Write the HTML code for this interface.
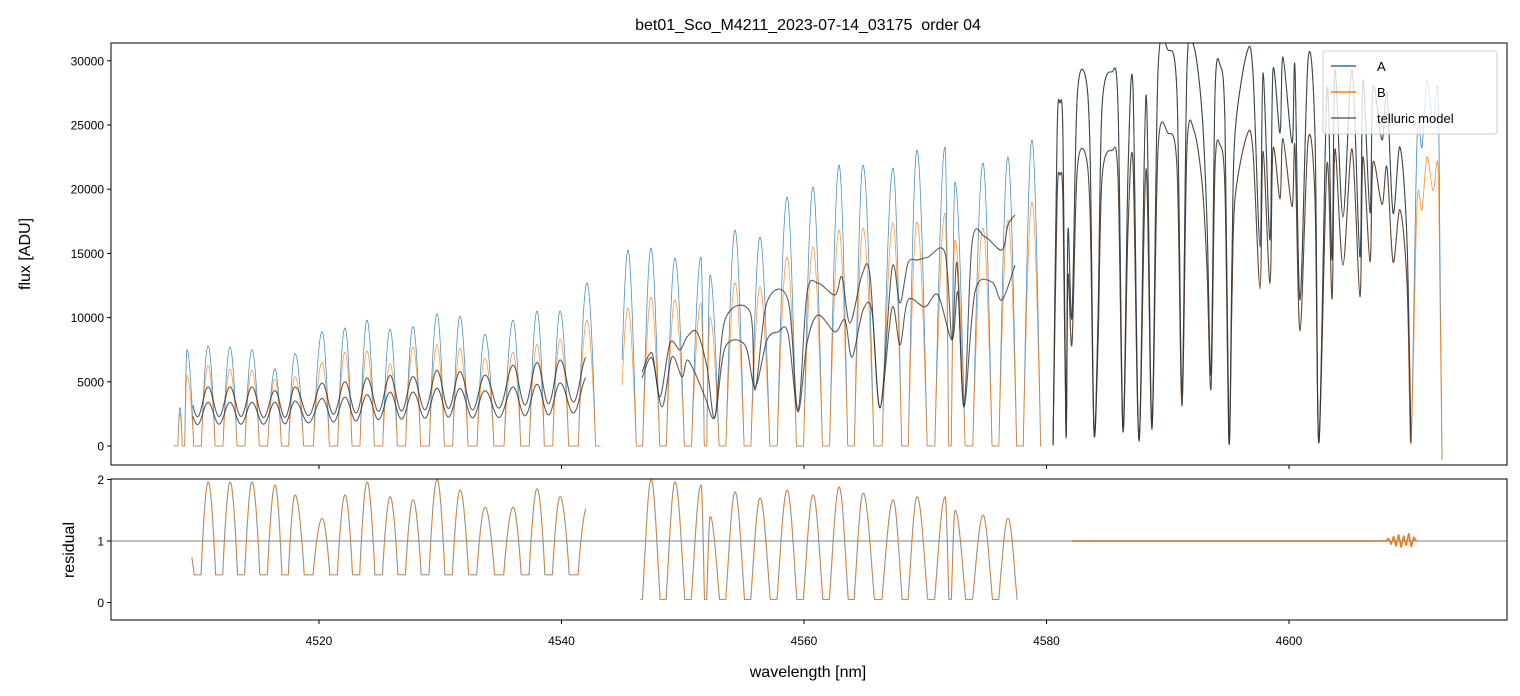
<!DOCTYPE html>
<html><head><meta charset="utf-8">
<style>
html,body{margin:0;padding:0;background:#fff;}
svg{display:block;font-family:"Liberation Sans","DejaVu Sans",sans-serif;}
</style></head>
<body>
<svg id="chart" width="1520" height="696" viewBox="0 0 1520 696" xmlns="http://www.w3.org/2000/svg">
<defs>
<clipPath id="clipTop"><rect x="111" y="43" width="1396" height="422"/></clipPath>
<clipPath id="clipBot"><rect x="111" y="479" width="1396" height="141"/></clipPath>
</defs>
<rect width="1520" height="696" fill="#fff"/>
<text x="808" y="30" font-size="16" text-anchor="middle">bet01_Sco_M4211_2023-07-14_03175 &#160;order 04</text>
<g id="topG" clip-path="url(#clipTop)"></g>
<g id="botG" clip-path="url(#clipBot)"></g>
<g id="axes"></g>
<text transform="translate(30,254) rotate(-90)" font-size="16" text-anchor="middle">flux [ADU]</text>
<text transform="translate(74,550) rotate(-90)" font-size="16" text-anchor="middle">residual</text>
<text x="808" y="677" font-size="16" text-anchor="middle">wavelength [nm]</text>
<g>
<rect x="1323" y="51" width="174" height="83" rx="3" fill="#fff" fill-opacity="0.8" stroke="#ccc"/>
<line x1="1331" y1="66" x2="1356" y2="66" stroke="#1f77b4" stroke-width="1.5"/>
<text x="1377" y="71" font-size="13">A</text>
<line x1="1331" y1="92" x2="1356" y2="92" stroke="#ff7f0e" stroke-width="1.5"/>
<text x="1377" y="97" font-size="13">B</text>
<line x1="1331" y1="118" x2="1356" y2="118" stroke="#333" stroke-opacity="0.75" stroke-width="1.5"/>
<text x="1377" y="123" font-size="13">telluric model</text>
</g>
</svg>
<script>
// ---- data ----
const xTicks = [4520, 4540, 4560, 4580, 4600];
const yTicksTop = [0, 5000, 10000, 15000, 20000, 25000, 30000];
const yTicksBot = [0, 1, 2];
// region 1 (periodic comb)
const r1Centers = [4508.54,4509.11,4510.85,4512.66,4514.47,4516.37,4518.02,4520.25,4522.14,4523.96,4525.86,4527.75,4529.73,4531.63,4533.69,4536.0,4537.98,4539.88,4542.1];
const r1A = [3000,7500,7800,7700,7500,6000,7200,8900,9200,9800,9100,9300,10300,10100,8700,9800,10500,10500,12700];
const r1B = [2500,5500,6300,6000,5900,5200,5400,6500,7300,7400,6400,7700,7900,7600,6800,7300,7900,8300,9800];
const r1ModelU = [4500,4500,4600,4600,4600,4300,4600,4900,5000,5300,5500,5400,5900,5800,5500,6300,6500,6700,7000];
const r1ModelL = [3300,3300,3400,3400,3400,3400,3500,3700,3800,4000,4200,4200,4500,4500,4300,4600,4800,4900,5400];
const r1Res = [0.5,1.0,1.96,1.96,1.96,1.91,1.75,1.37,1.75,1.96,1.72,1.67,2.0,1.83,1.55,1.55,1.85,1.72,1.55];
// region 2
const r2Centers = [4545.48,4547.38,4549.36,4551.5,4552.25,4554.31,4556.37,4558.6,4560.74,4562.89,4564.87,4567.34,4569.32,4571.63,4572.45,4574.76,4576.82,4578.8];
const r2A = [15260,15420,14640,14720,13320,16820,16280,19390,20170,21880,21880,21650,23050,23290,20560,22040,22510,23830];
const r2B = [10750,11600,11370,11140,10050,12700,12380,14720,15500,16820,16980,17370,17450,18150,16040,16980,17600,19000];
const r2Res = [1.5,2.0,1.96,1.91,1.4,1.8,1.7,1.83,1.75,1.88,1.78,1.67,1.72,1.72,1.5,1.42,1.37,1.3];
const r2ModelUWl = [4546.64,4547.47,4548.12,4548.95,4549.77,4550.35,4551.17,4552.0,4552.66,4553.48,4555.55,4555.96,4556.95,4558.68,4559.5,4560.25,4561.15,4562.56,4563.13,4563.79,4564.78,4565.44,4566.27,4567.26,4567.92,4568.58,4569.4,4570.23,4571.63,4572.21,4572.62,4573.2,4573.86,4574.93,4576.33,4576.82,4577.4];
const r2ModelUVal = [5760,7240,3820,8020,7480,8490,8880,6150,2260,9810,10440,4360,11210,11370,2800,11920,12690,11760,13160,9580,13320,13320,2960,13860,11140,14250,14490,14720,15030,8260,14250,3040,15810,16280,15260,17210,17990];
const r2ModelLWl = [4546.64,4547.47,4548.29,4549.11,4549.94,4550.35,4551.01,4551.84,4552.66,4553.48,4555.13,4555.96,4556.95,4557.86,4558.68,4559.5,4560.25,4561.15,4562.56,4563.38,4563.96,4564.87,4565.61,4566.27,4567.26,4567.92,4568.58,4569.98,4571.05,4572.21,4572.7,4573.2,4574.1,4575.5,4576.33,4577.4];
const r2ModelLVal = [5300,6850,3040,6930,5370,6700,5690,3820,2260,7630,7870,4600,8260,8880,8800,2650,8020,10200,8880,9810,6930,10590,10440,2960,10750,7870,11370,10830,11760,8260,11920,3040,11990,12770,11370,14100];
// region 3 (continuum with deep lines)
const r3Wl = [4580.54,4580.87,4581.11,4581.36,4581.61,4581.77,4582.1,4582.52,4583.18,4583.59,4583.92,4584.25,4584.58,4585.4,4585.9,4586.31,4586.72,4587.13,4587.63,4588.21,4588.7,4589.2,4590.02,4590.76,4591.18,4591.59,4592.17,4592.83,4593.24,4593.57,4593.9,4594.31,4594.72,4595.05,4595.3,4595.55,4596.54,4597.03,4597.61,4597.86,4598.43,4598.68,4599.26,4599.5,4600.25,4600.49,4600.91,4601.57,4602.14,4602.47,4603.13,4603.55,4603.79,4604.45,4605.2,4605.85,4606.1,4606.68,4606.93,4607.67,4608.08,4608.58,4609.15,4609.73,4610.06,4610.56,4610.97,4611.38,4611.88,4612.29,4612.45,4612.62];
const r3A = [80,24060,26710,24060,860,16820,10050,26950,28890,23050,1250,10050,26400,29130,26400,1400,21260,27960,470,27340,1640,29280,30840,27490,3970,29520,31070,25930,17370,5690,27490,29670,25160,310,14720,24380,30680,29050,15500,29050,16040,29280,24380,30300,23600,29520,11370,30060,24380,310,27730,14490,29280,17830,29280,14720,28500,18150,27960,23830,27490,18150,23290,16040,310,23830,23290,28500,25160,27730,14720,-1090];
const r3BScale = [0.79];
const r3ResTail = [1.0,1.04,0.95,1.07,0.92,1.1,0.9,1.08,0.93,1.12,0.91,1.06,1.0];

// ---- scales ----
const X = w => 76.5 + (w - 4500) * 12.125;
const YT = f => 446 - f * 0.01284;
const YB = r => 541 - (r - 1) * 61.5;
const NS = "http://www.w3.org/2000/svg";
function mk(tag, attrs, parent) {
  const e = document.createElementNS(NS, tag);
  for (const k in attrs) e.setAttribute(k, attrs[k]);
  parent.appendChild(e);
  return e;
}
function pathFrom(pts, xs, ys) {
  let d = "";
  pts.forEach((p, i) => { d += (i ? "L" : "M") + xs(p[0]).toFixed(2) + " " + ys(p[1]).toFixed(2); });
  return d;
}
function smoothPath(pts, xs, ys) {
  const P = pts.map(p => [xs(p[0]), ys(p[1])]);
  let d = "M" + P[0][0].toFixed(2) + " " + P[0][1].toFixed(2);
  for (let i = 0; i < P.length - 1; i++) {
    const p0 = P[Math.max(0, i - 1)], p1 = P[i], p2 = P[i + 1], p3 = P[Math.min(P.length - 1, i + 2)];
    const t = 0.16;
    const c1 = [p1[0] + (p2[0] - p0[0]) * t, p1[1] + (p2[1] - p0[1]) * t];
    const c2 = [p2[0] - (p3[0] - p1[0]) * t, p2[1] - (p3[1] - p1[1]) * t];
    d += "C" + c1[0].toFixed(2) + " " + c1[1].toFixed(2) + " " + c2[0].toFixed(2) + " " + c2[1].toFixed(2) + " " + p2[0].toFixed(2) + " " + p2[1].toFixed(2);
  }
  return d;
}
function comb(centers, peaks, w, th, ex) {
  const n = centers.length;
  let i = 0;
  while (i < n - 1 && centers[i + 1] <= w) i++;
  let c0, c1, p0, p1;
  if (w < centers[0]) { const s = centers[1] - centers[0]; c0 = centers[0] - s; c1 = centers[0]; p0 = 0; p1 = peaks[0]; }
  else if (i >= n - 1) { const s = centers[n-1] - centers[n-2]; c0 = centers[n-1]; c1 = c0 + s; p0 = peaks[n-1]; p1 = 0; }
  else { c0 = centers[i]; c1 = centers[i+1]; p0 = peaks[i]; p1 = peaks[i+1]; }
  const u = (w - c0) / (c1 - c0);
  const s = (1 + Math.cos(2 * Math.PI * u)) / 2;
  const sh = s < th ? 0 : Math.pow((s - th) / (1 - th), ex);
  return { u, s: sh, raw: s, p: u < 0.5 ? p0 : p1, pi: p0 * (1 - u) + p1 * u };
}
function sample(w0, w1, fn) {
  const pts = [];
  for (let w = w0; w <= w1 + 1e-9; w += 0.02) pts.push([w, fn(w)]);
  return pts;
}
const topG = document.getElementById("topG");
const botG = document.getElementById("botG");
const cA = "#1f77b4", cB = "#ff7f0e", cM = "#333";

function drawLine(parent, pts, ys, color, name, op, sw, smooth) {
  const d = smooth ? smoothPath(pts, X, ys) : pathFrom(pts, X, ys);
  const p = mk("path", { d: d, fill: "none", stroke: color, "stroke-width": sw || 0.8, "stroke-opacity": op || 0.8, "stroke-linejoin": "round" }, parent);
  
  
  return p;
}

const r1A_pts = sample(4508.0, 4543.2, w => { const c = comb(r1Centers, r1A, w, 0.3, 0.8); return c.p * c.s; });
const r1B_pts = sample(4508.0, 4543.2, w => { const c = comb(r1Centers, r1B, w, 0.3, 0.8); return c.p * c.s; });
const r1MU_pts = sample(4509.6, 4542.0, w => { const c = comb(r1Centers, r1ModelU, w, 0, 1); return c.pi * (0.5 + 0.5 * c.raw); });
const r1ML_pts = sample(4509.6, 4542.0, w => { const c = comb(r1Centers, r1ModelL, w, 0, 1); return c.pi * (0.5 + 0.5 * c.raw); });
const r2A_pts = sample(4545.0, 4579.6, w => { const c = comb(r2Centers, r2A, w, 0.18, 0.85); return c.p * c.s; });
const r2B_pts = sample(4545.0, 4579.6, w => { const c = comb(r2Centers, r2B, w, 0.18, 0.85); return c.p * c.s; });
const r2MU_pts = r2ModelUWl.map((w, i) => [w, r2ModelUVal[i]]);
const r2ML_pts = r2ModelLWl.map((w, i) => [w, r2ModelLVal[i]]);
const r3A_pts = r3Wl.map((w, i) => [w, r3A[i]]);
const r3B_pts = r3Wl.map((w, i) => [w, r3A[i] * r3BScale[0]]);
const r3MA_pts = r3A_pts.filter(p => p[0] <= 4610.1);
const r3MB_pts = r3B_pts.filter(p => p[0] <= 4610.1);

drawLine(topG, r1A_pts, YT, cA, "series-a-region1");
drawLine(topG, r2A_pts, YT, cA, "series-a-region2");
drawLine(topG, r3A_pts, YT, cA, "series-a-region3", 0.8, 0.9, true);
drawLine(topG, r1B_pts, YT, cB, "series-b-region1");
drawLine(topG, r2B_pts, YT, cB, "series-b-region2");
drawLine(topG, r3B_pts, YT, cB, "series-b-region3", 0.8, 0.9, true);
drawLine(topG, r1MU_pts, YT, cM, "model-upper-region1", 0.8, 1.1);
drawLine(topG, r1ML_pts, YT, cM, "model-lower-region1", 0.8, 1.1);
drawLine(topG, r2MU_pts, YT, cM, "model-upper-region2", 0.8, 1.1, true);
drawLine(topG, r2ML_pts, YT, cM, "model-lower-region2", 0.8, 1.1, true);
drawLine(topG, r3MA_pts, YT, cM, "model-a-region3", 0.8, 1.1, true);
drawLine(topG, r3MB_pts, YT, cM, "model-b-region3", 0.8, 1.1, true);

const ref1 = mk("line", { x1: 111, x2: 1507, y1: YB(1), y2: YB(1), stroke: "#555", "stroke-width": 0.7 }, botG);


const res1 = sample(4509.5, 4542.0, w => { const c = comb(r1Centers, r1Res, w, 0.25, 0.8); return 0.45 + (c.p - 0.45) * c.s; });
const res2 = sample(4546.5, 4577.6, w => { const c = comb(r2Centers, r2Res, w, 0.15, 0.9); return 0.05 + (c.p - 0.05) * c.s; });
const tailStart = 4608.0, tailStep = (4610.5 - 4608.0) / (r3ResTail.length - 1);
const res3 = [[4582.1, 1.0]].concat(r3ResTail.map((v, i) => [tailStart + i * tailStep, v]));
drawLine(botG, res1, YB, cA, "residual-a-region1");
drawLine(botG, res1.map(p => [p[0] + 0.03, p[1]]), YB, cB, "residual-b-region1");
drawLine(botG, res2, YB, cA, "residual-a-region2");
drawLine(botG, res2.map(p => [p[0] + 0.03, p[1]]), YB, cB, "residual-b-region2");
drawLine(botG, res3, YB, cA, "residual-a-region3", 0.9, 1.6);
drawLine(botG, res3.map(p => [p[0], p[1] * 0.995 + 0.005]), YB, cB, "residual-b-region3", 0.9, 1.6);

const axes = document.getElementById("axes");
const f1 = mk("rect", { x: 111, y: 43, width: 1396, height: 422, fill: "none", stroke: "#000", "stroke-width": 1 }, axes);


const f2 = mk("rect", { x: 111, y: 479, width: 1396, height: 141, fill: "none", stroke: "#000", "stroke-width": 1 }, axes);


xTicks.forEach(t => {
  const x = X(t);
  mk("line", { x1: x, x2: x, y1: 465, y2: 469, stroke: "#000" }, axes);
  mk("line", { x1: x, x2: x, y1: 620, y2: 624, stroke: "#000" }, axes);
  const tx = mk("text", { x: x, y: 645, "font-size": 12, "text-anchor": "middle" }, axes);
  tx.textContent = t;
  
  
});
yTicksTop.forEach(t => {
  const y = YT(t);
  mk("line", { x1: 107, x2: 111, y1: y, y2: y, stroke: "#000" }, axes);
  const tx = mk("text", { x: 104, y: y + 4.5, "font-size": 12, "text-anchor": "end" }, axes);
  tx.textContent = t;
  
  
});
yTicksBot.forEach(t => {
  const y = YB(t);
  mk("line", { x1: 107, x2: 111, y1: y, y2: y, stroke: "#000" }, axes);
  const tx = mk("text", { x: 104, y: y + 4.5, "font-size": 12, "text-anchor": "end" }, axes);
  tx.textContent = t;
  
  
});
</script>
</body></html>
